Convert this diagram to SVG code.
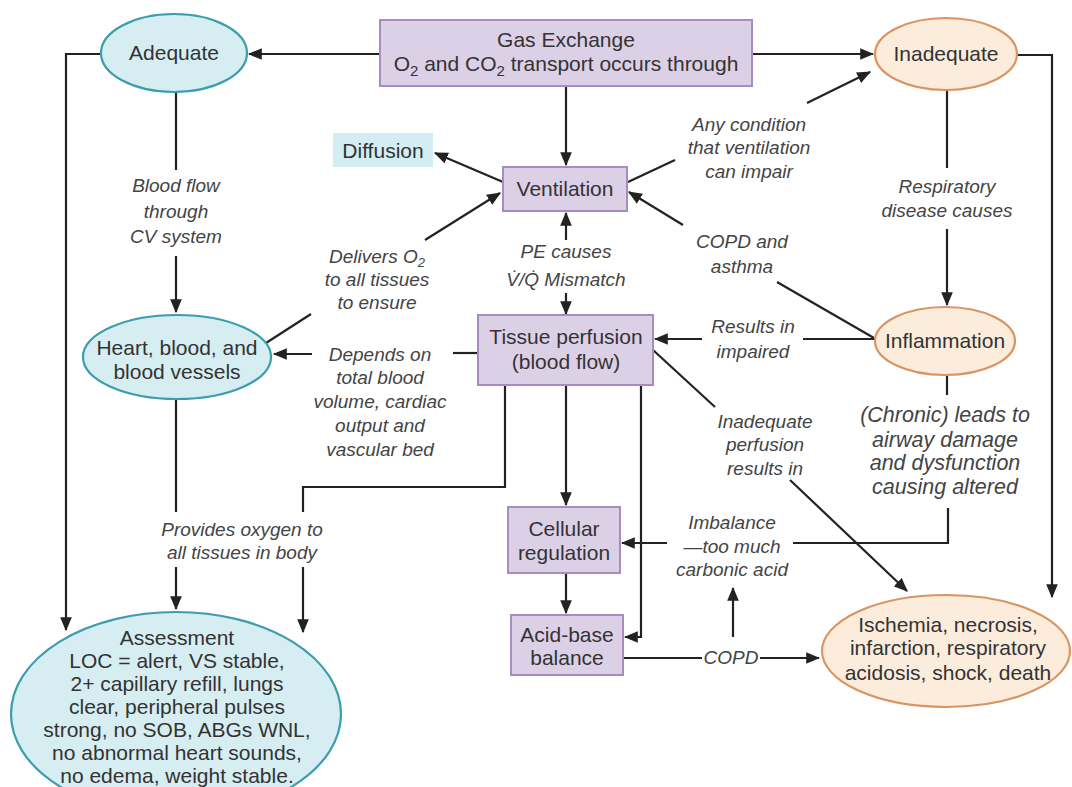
<svg xmlns="http://www.w3.org/2000/svg" width="1072" height="787" viewBox="0 0 1072 787">
  <style>
    .box { fill: #dcd0e7; stroke: #a78cc0; stroke-width: 2; }
    .cy { fill: #d6edf1; stroke: #3c9dad; stroke-width: 2.2; }
    .or { fill: #fcecdb; stroke: #d99463; stroke-width: 2.2; }
    .diff { fill: #d2eef2; }
    .t { font-family: "Liberation Sans", Arial, sans-serif; font-size: 21px; fill: #333; text-anchor: middle; }
    .l { font-family: "Liberation Sans", Arial, sans-serif; font-size: 19px; font-style: italic; fill: #444; text-anchor: middle; }
    .lb { font-family: "Liberation Sans", Arial, sans-serif; font-size: 21.5px; font-style: italic; fill: #444; text-anchor: middle; }
    .c { fill: none; stroke: #222; stroke-width: 2.2; }
    .a { marker-end: url(#ah); }
  </style>
  <defs>
    <marker id="ah" viewBox="0 0 12 10" refX="11" refY="5" markerWidth="14" markerHeight="12" orient="auto" markerUnits="userSpaceOnUse">
      <path d="M0,0 L12,5 L0,10 z" fill="#222"/>
    </marker>
  </defs>
  <rect width="1072" height="787" fill="#ffffff"/>

  <!-- connectors -->
  <g id="connectors">
    <path class="c a" d="M380,54 H249"/>
    <path class="c a" d="M752,54 H873"/>
    <path class="c a" d="M566,86 V165"/>
    <path class="c a" d="M101,54 H66 V630"/>
    <path class="c" d="M176,92 V170"/>
    <path class="c a" d="M176,256 V312"/>
    <path class="c" d="M266,343 L311,314"/>
    <path class="c a" d="M425,240 L500,193"/>
    <path class="c a" d="M503,182 L435,153"/>
    <path class="c a" d="M566,240 V213"/>
    <path class="c a" d="M566,293 V314"/>
    <path class="c" d="M483,353 H453"/>
    <path class="c a" d="M312,354 H274"/>
    <path class="c a" d="M566,385 V505"/>
    <path class="c a" d="M566,573 V613"/>
    <path class="c a" d="M641,385 V637 H625"/>
    <path class="c" d="M505,385 V487 H303 V512"/>
    <path class="c a" d="M303,567 V632"/>
    <path class="c" d="M176,399 V512"/>
    <path class="c a" d="M176,567 V609"/>
    <path class="c a" d="M1017,55 H1052 V597"/>
    <path class="c" d="M947,90 V168"/>
    <path class="c a" d="M947,229 V305"/>
    <path class="c" d="M628,182 L675,160"/>
    <path class="c a" d="M807,103 L870,72"/>
    <path class="c" d="M874,338 L777,282"/>
    <path class="c a" d="M683,225 L629,192"/>
    <path class="c" d="M875,339 H803"/>
    <path class="c a" d="M702,339 H655"/>
    <path class="c" d="M653,350 L715,407"/>
    <path class="c a" d="M790,480 L907,591"/>
    <path class="c" d="M947,376 V395"/>
    <path class="c" d="M948,508 V543 H793"/>
    <path class="c a" d="M667,543 H622"/>
    <path class="c" d="M623,658 H702"/>
    <path class="c a" d="M760,658 H819"/>
    <path class="c a" d="M733,637 V588"/>
  </g>

  <!-- connector labels -->
  <g id="labels">
    <text class="l" x="176" y="192">Blood flow</text>
    <text class="l" x="176" y="218">through</text>
    <text class="l" x="176" y="243">CV system</text>
    <text class="l" x="947" y="193">Respiratory</text>
    <text class="l" x="947" y="217">disease causes</text>
    <text class="l" x="749" y="131">Any condition</text>
    <text class="l" x="749" y="154">that ventilation</text>
    <text class="l" x="749" y="178">can impair</text>
    <text class="l" x="742" y="248">COPD and</text>
    <text class="l" x="742" y="273">asthma</text>
    <text class="l" x="377" y="263">Delivers O<tspan font-size="13" dy="4">2</tspan></text>
    <text class="l" x="377" y="286">to all tissues</text>
    <text class="l" x="377" y="309">to ensure</text>
    <text class="l" x="566" y="258">PE causes</text>
    <text class="l" x="566" y="286">V̇/Q̇ Mismatch</text>
    <text class="l" x="753" y="333">Results in</text>
    <text class="l" x="753" y="358">impaired</text>
    <text class="l" x="380" y="361">Depends on</text>
    <text class="l" x="380" y="384">total blood</text>
    <text class="l" x="380" y="408">volume, cardiac</text>
    <text class="l" x="380" y="432">output and</text>
    <text class="l" x="380" y="456">vascular bed</text>
    <text class="l" x="765" y="428">Inadequate</text>
    <text class="l" x="765" y="451">perfusion</text>
    <text class="l" x="765" y="475">results in</text>
    <text class="lb" x="945" y="422">(Chronic) leads to</text>
    <text class="lb" x="945" y="447">airway damage</text>
    <text class="lb" x="945" y="470">and dysfunction</text>
    <text class="lb" x="945" y="494">causing altered</text>
    <text class="l" x="732" y="529">Imbalance</text>
    <text class="l" x="732" y="553">—too much</text>
    <text class="l" x="732" y="576">carbonic acid</text>
    <text class="l" x="242" y="536">Provides oxygen to</text>
    <text class="l" x="242" y="559">all tissues in body</text>
    <text class="l" x="731" y="664">COPD</text>
  </g>

  <g id="gas-exchange">
    <rect class="box" x="380" y="20" width="372" height="66"/>
    <text class="t" x="566" y="47">Gas Exchange</text>
    <text class="t" x="566" y="71">O<tspan font-size="15" dy="5">2</tspan><tspan dy="-5"> and CO</tspan><tspan font-size="15" dy="5">2</tspan><tspan dy="-5"> transport occurs through</tspan></text>
  </g>

  <g id="adequate">
    <ellipse class="cy" cx="174" cy="53" rx="73" ry="39"/>
    <text class="t" x="174" y="60">Adequate</text>
  </g>

  <g id="inadequate">
    <ellipse class="or" cx="946" cy="54" rx="71" ry="36"/>
    <text class="t" x="946" y="61">Inadequate</text>
  </g>

  <g id="diffusion">
    <rect class="diff" x="333" y="133" width="100" height="34"/>
    <text class="t" x="383" y="158">Diffusion</text>
  </g>

  <g id="ventilation">
    <rect class="box" x="503" y="167" width="124" height="44"/>
    <text class="t" x="565" y="196">Ventilation</text>
  </g>

  <g id="heart">
    <ellipse class="cy" cx="177" cy="357" rx="94" ry="42"/>
    <text class="t" x="177" y="355">Heart, blood, and</text>
    <text class="t" x="177" y="379">blood vessels</text>
  </g>

  <g id="tissue-perfusion">
    <rect class="box" x="478" y="315" width="175" height="70"/>
    <text class="t" x="566" y="344">Tissue perfusion</text>
    <text class="t" x="566" y="369">(blood flow)</text>
  </g>

  <g id="inflammation">
    <ellipse class="or" cx="945" cy="341" rx="70" ry="34"/>
    <text class="t" x="945" y="348">Inflammation</text>
  </g>

  <g id="cellular-regulation">
    <rect class="box" x="508" y="507" width="112" height="66"/>
    <text class="t" x="564" y="536">Cellular</text>
    <text class="t" x="564" y="560">regulation</text>
  </g>

  <g id="acid-base">
    <rect class="box" x="511" y="615" width="112" height="60"/>
    <text class="t" x="567" y="642">Acid-base</text>
    <text class="t" x="567" y="665">balance</text>
  </g>

  <g id="ischemia">
    <ellipse class="or" cx="946" cy="651" rx="124" ry="56"/>
    <text class="t" x="948" y="632">Ischemia, necrosis,</text>
    <text class="t" x="948" y="655">infarction, respiratory</text>
    <text class="t" x="948" y="680">acidosis, shock, death</text>
  </g>

  <g id="assessment">
    <ellipse class="cy" cx="176" cy="714" rx="165" ry="102"/>
    <text class="t" x="177" y="645">Assessment</text>
    <text class="t" x="177" y="668">LOC = alert, VS stable,</text>
    <text class="t" x="177" y="691">2+ capillary refill, lungs</text>
    <text class="t" x="177" y="714">clear, peripheral pulses</text>
    <text class="t" x="177" y="737">strong, no SOB, ABGs WNL,</text>
    <text class="t" x="177" y="760">no abnormal heart sounds,</text>
    <text class="t" x="177" y="783">no edema, weight stable.</text>
  </g>
</svg>
